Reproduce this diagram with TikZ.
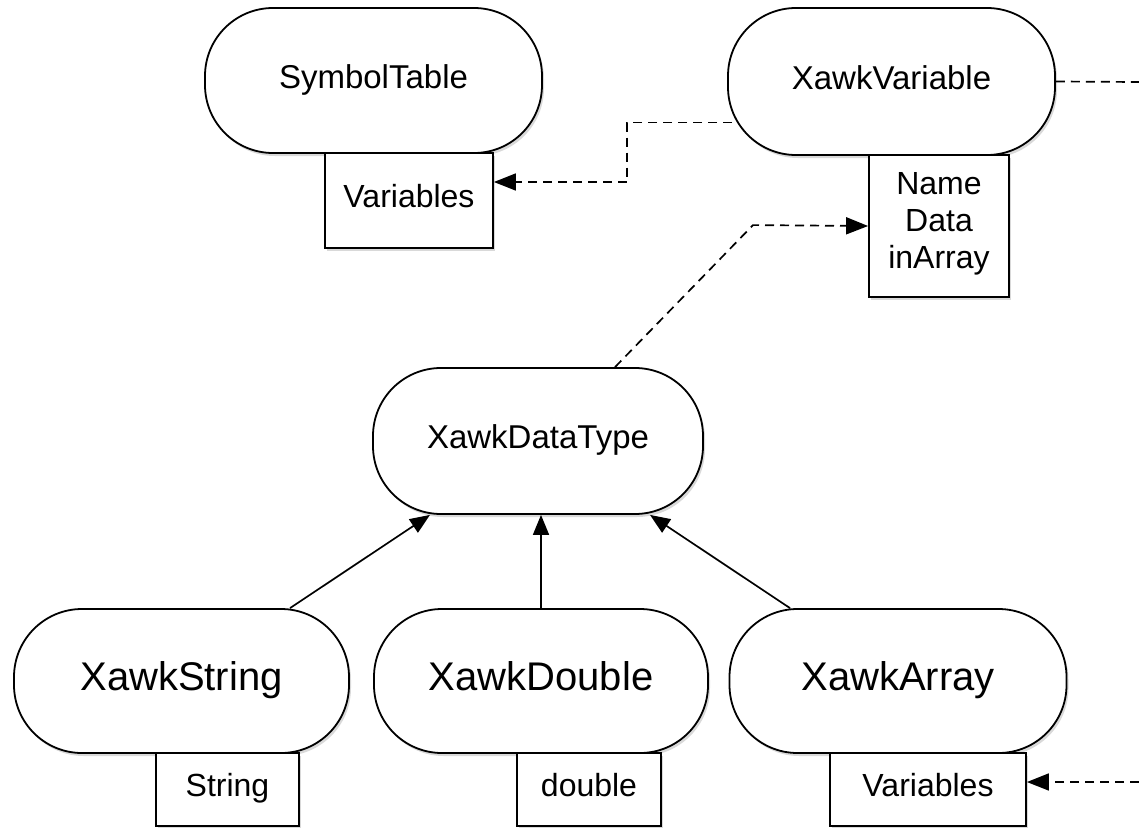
\documentclass[tikz,border=0pt]{standalone}
\usepackage{fontspec}
\setmainfont{Liberation Sans}
\usetikzlibrary{arrows.meta,positioning,shadows,backgrounds}
\tikzset{
  classnode/.style={draw=black,fill=white,line width=1.8pt,rounded corners=68pt,
                    align=center,inner sep=0pt,font=\fontsize{33}{38}\selectfont,
                    execute at begin node=\strut,
                    drop shadow={opacity=0.3,shadow xshift=2pt,shadow yshift=-3pt}},
  bigclass/.style={classnode,font=\fontsize{40}{46}\selectfont},
  fieldbox/.style={draw=black,fill=white,line width=1.8pt,align=center,
                   inner sep=0pt,font=\fontsize{32}{37}\selectfont,
                   execute at begin node=\strut,
                   drop shadow={opacity=0.3,shadow xshift=2pt,shadow yshift=-3pt}},
  inheritarr/.style={-{Triangle[length=20pt,width=16pt]},line width=1.7pt},
  usesarr/.style={-{Triangle[length=22pt,width=17pt]},line width=1.7pt,
                  dash pattern=on 9pt off 6pt},
  usesline/.style={line width=1.7pt,dash pattern=on 9pt off 6pt}
}
\begin{document}
\begin{tikzpicture}[x=1pt,y=-1pt]
  \useasboundingbox (0,0) rectangle (1139,827);

  % classes and their fields
  \node[classnode,minimum width=337pt,minimum height=145pt] (symtab) at (373.5,80.5) {SymbolTable};
  \node[fieldbox,minimum width=168pt,minimum height=95pt] (symvars) at (409,200.5) {Variables};
  \node[classnode,minimum width=327pt,minimum height=147pt] (xvar) at (891.5,81.5) {XawkVariable};
  \node[fieldbox,minimum width=140pt,minimum height=142pt] (xvarf) at (939,226) {Name\\Data\\inArray};
  \node[classnode,minimum width=330pt,minimum height=146pt] (dtype) at (538,441) {XawkDataType};
  \node[bigclass,minimum width=335pt,minimum height=144pt] (xstr) at (181.5,681) {XawkString};
  \node[fieldbox,minimum width=143pt,minimum height=73pt] (xstrf) at (227.5,789.5) {String};
  \node[bigclass,minimum width=334pt,minimum height=144pt] (xdbl) at (541,681) {XawkDouble};
  \node[fieldbox,minimum width=144pt,minimum height=73pt] (xdblf) at (589,789.5) {double};
  \node[bigclass,minimum width=337pt,minimum height=144pt] (xarr) at (898,681) {XawkArray};
  \node[fieldbox,minimum width=196pt,minimum height=73pt] (xarrf) at (928,789.5) {Variables};

  % loose ends at the right border
  \coordinate (outtop) at (1139,82);
  \coordinate (inbot) at (1139,782);

  % inheritance
  \draw[inheritarr] ([xshift=108.5pt]xstr.north) -- ([xshift=-108pt]dtype.south);
  \draw[inheritarr] (xdbl.north) -- (xdbl.north |- dtype.south);
  \draw[inheritarr] ([xshift=-108pt]xarr.north) -- ([xshift=112pt]dtype.south);

  % references
  \begin{scope}[on background layer]
    \draw[usesarr] ([xshift=20pt,yshift=-41pt]xvar.west) -- ++(-120,0) |- ([yshift=18.5pt]symvars.east);
  \end{scope}
  \draw[usesarr] ([xshift=77pt]dtype.north) -- ++(138,-142) -- (xvarf.west);
  \draw[usesline] (xvar.east) -- (outtop);
  \draw[usesarr] (inbot) -- ([yshift=7.5pt]xarrf.east);
\end{tikzpicture}
\end{document}
